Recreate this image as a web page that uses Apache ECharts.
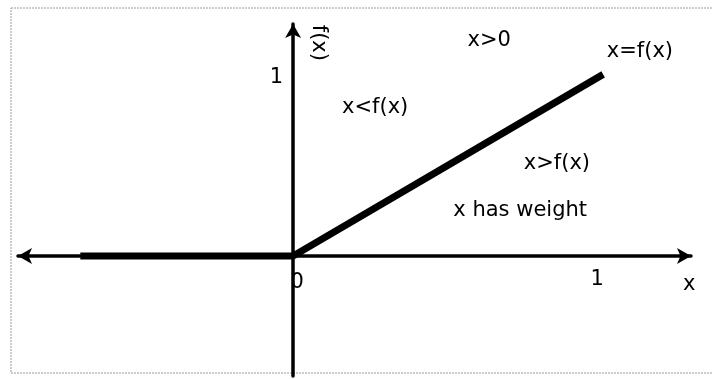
<!DOCTYPE html>
<html>
<head>
<meta charset="utf-8">
<title>x vs f(x)</title>
<script src="https://cdn.jsdelivr.net/npm/echarts@6/dist/echarts.min.js"></script>
<style>
    html, body { margin: 0; padding: 0; background: #fff; }
    #chart { width: 713px; height: 379px; }
</style>
</head>
<body>
<div id="chart"></div>
<script>
// f(x): zero on the left, then the line x = f(x)
var curveX = [-0.7, 0, 1.02];
var curveY = [0, 0, 1.02];

// tick labels on each axis (drawn where the axes cross)
var xTicks = [0, 1];
var yTicks = [1];

// notes written on the plot, in data units
var noteText = ['x>0', 'x=f(x)', 'x<f(x)', 'x>f(x)', 'x has weight', 'f(x)', 'x'];
var noteX = [0.645, 1.141, 0.270, 0.868, 0.747, 0.085, 1.303];
var noteY = [1.208, 1.146, 0.831, 0.517, 0.253, 1.197, -0.163];
var noteRotate = [0, 0, 0, 0, 0, -90, 0];

var font = 'DejaVu Sans';
var ink = '#000';

var chart = echarts.init(document.getElementById('chart'));

var lineData = [];
for (var i = 0; i < curveX.length; i++) {
    lineData.push([curveX[i], curveY[i]]);
}

var noteData = [];
for (var j = 0; j < noteText.length; j++) {
    noteData.push({
        value: [noteX[j], noteY[j]],
        name: noteText[j],
        label: { rotate: noteRotate[j] }
    });
}

// tick labels sit on the crossing axes, so place them as labelled points
var tickData = [];
for (var k = 0; k < xTicks.length; k++) {
    tickData.push({
        value: [xTicks[k], 0],
        name: String(xTicks[k]),
        label: { position: 'bottom', distance: 12, offset: [xTicks[k] === 0 ? 4 : 0, xTicks[k] === 0 ? 4 : 1] }
    });
}
for (var m = 0; m < yTicks.length; m++) {
    tickData.push({
        value: [0, yTicks[m]],
        name: String(yTicks[m]),
        label: { position: 'left', distance: 10 }
    });
}

var arrowLine = function(symbols){
    return {
        onZero: true,
        symbol: symbols,
        symbolSize: [12, 14],
        lineStyle: { color: '#000', width: 3.5 }
    };
};

var textStyle = {
    show: true,
    formatter: '{b}',
    color: ink,
    fontFamily: font,
    fontSize: 21
};

var option = {
    animation: false,
    backgroundColor: '#fff',
    grid: { left: 18, right: 22, top: 24, bottom: 3, outerBoundsMode: 'none', containLabel: false },
    xAxis: {
        type: 'value',
        min: -0.905,
        max: 1.309,
        axisLine: arrowLine(['arrow', 'arrow']),
        axisTick: { show: false },
        splitLine: { show: false },
        axisLabel: { show: false }
    },
    yAxis: {
        type: 'value',
        min: -0.674,
        max: 1.303,
        axisLine: arrowLine(['none', 'arrow']),
        axisTick: { show: false },
        splitLine: { show: false },
        axisLabel: { show: false }
    },
    graphic: [
        {
            type: 'rect',
            silent: true,
            z: -1,
            shape: { x: 11, y: 8, width: 720, height: 365 },
            style: { fill: 'none', stroke: '#9a9a9a', lineWidth: 1, lineDash: [2, 1] }
        }
    ],
    series: [
        {
            type: 'line',
            data: lineData,
            showSymbol: false,
            lineStyle: { color: '#000', width: 7 },
            z: 3
        },
        {
            type: 'scatter',
            data: noteData,
            symbolSize: 0,
            itemStyle: { opacity: 1 },
            label: echarts.util.extend({ position: 'inside' }, textStyle),
            z: 4
        },
        {
            type: 'scatter',
            data: tickData,
            symbolSize: 0,
            itemStyle: { opacity: 1 },
            label: textStyle,
            z: 4
        }
    ]
};

chart.setOption(option);
</script>
</body>
</html>
